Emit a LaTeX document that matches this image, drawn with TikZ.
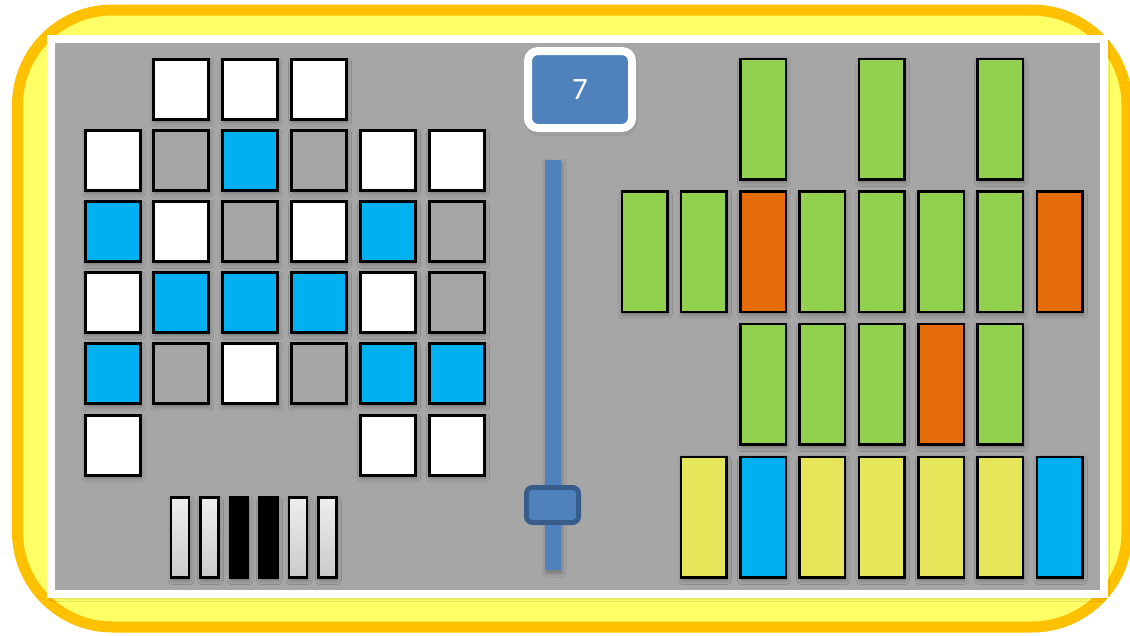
\documentclass[tikz,border=0pt]{standalone}
\usepackage{fontspec}
\setmainfont{Carlito}
\usetikzlibrary{shadows.blur}
\definecolor{gbg}{HTML}{A6A6A6}
\definecolor{cyanb}{HTML}{00B0F0}
\definecolor{grn}{HTML}{92D050}
\definecolor{org}{HTML}{E46C0A}
\definecolor{ylw}{HTML}{E6E65A}
\definecolor{sblue}{HTML}{4F81BD}
\definecolor{sdark}{HTML}{385D8A}
\definecolor{gold}{HTML}{FFC000}
\definecolor{lyel}{HTML}{FFFF66}
\definecolor{klight}{HTML}{EEEEEE}
\definecolor{kdark}{HTML}{CACACA}
\begin{document}
\begin{tikzpicture}[x=1pt,y=-1pt,
 shad/.style={blur shadow={shadow xshift=1pt,shadow yshift=-3pt,shadow blur radius=4pt,shadow opacity=30}},
 sq/.style={draw=black,line width=3pt,minimum width=55pt,minimum height=60pt,inner sep=0pt,shad},
 keyw/.style={draw=black,line width=2.6pt,minimum width=18pt,minimum height=80pt,inner sep=0pt,shad},
 bar/.style={draw=black,line width=2.5pt,minimum width=45.5pt,minimum height=120.5pt,inner sep=0pt,shad}]
\useasboundingbox (0,0) rectangle (1130,635);
\clip (0,0) rectangle (1130,635);
% outer rounded panel
\draw[gold,line width=11pt,fill=lyel,rounded corners=95pt] (17.5,10) rectangle (1127,627);
% grey frame
\node[draw=white,line width=8pt,fill=gbg,minimum width=1053pt,minimum height=555pt,inner sep=0pt,shad] (frame) at (577.5,316.5) {};
% grid of squares
\foreach \r/\c/\col in {0/1/white,0/2/white,0/3/white,
 1/0/white,1/1/gbg,1/2/cyanb,1/3/gbg,1/4/white,1/5/white,
 2/0/cyanb,2/1/white,2/2/gbg,2/3/white,2/4/cyanb,2/5/gbg,
 3/0/white,3/1/cyanb,3/2/cyanb,3/3/cyanb,3/4/white,3/5/gbg,
 4/0/cyanb,4/1/gbg,4/2/white,4/3/gbg,4/4/cyanb,4/5/cyanb,
 5/0/white,5/4/white,5/5/white}
 \node[sq,fill=\col] (g\r\c) at ({112.5+68.9*\c},{89+71.2*\r}) {};
% keys
\foreach \i in {0,1,4,5}
 \node[keyw,top color=klight,bottom color=kdark] (k\i) at ({180+29.5*\i},537.5) {};
\foreach \i in {2,3}
 \node[keyw,fill=black] (k\i) at ({180+29.5*\i},537.5) {};
% slider
\node[fill=sblue,minimum width=16pt,minimum height=410pt,inner sep=0pt,shad] (track) at (553,365) {};
\node[fill=sblue,draw=sdark,line width=5pt,rounded corners=6pt,minimum width=52pt,minimum height=35pt,inner sep=0pt] (knob) at (552.5,505) {};
% display
\node[draw=white,fill=sblue,line width=8pt,rounded corners=10pt,minimum width=104pt,minimum height=77pt,inner sep=0pt,text=white,font=\fontsize{31}{36}\selectfont,shad] (disp) at (580,89.5) {7};
% right bars
\foreach \r/\c/\col in {0/2/grn,0/4/grn,0/6/grn,
 1/0/grn,1/1/grn,1/2/org,1/3/grn,1/4/grn,1/5/grn,1/6/grn,1/7/org,
 2/2/grn,2/3/grn,2/4/grn,2/5/org,2/6/grn,
 3/1/ylw,3/2/cyanb,3/3/ylw,3/4/ylw,3/5/ylw,3/6/ylw,3/7/cyanb}
 \node[bar,fill=\col] (b\r\c) at ({644.5+59.3*\c},{119+132.7*\r}) {};
\end{tikzpicture}
\end{document}
